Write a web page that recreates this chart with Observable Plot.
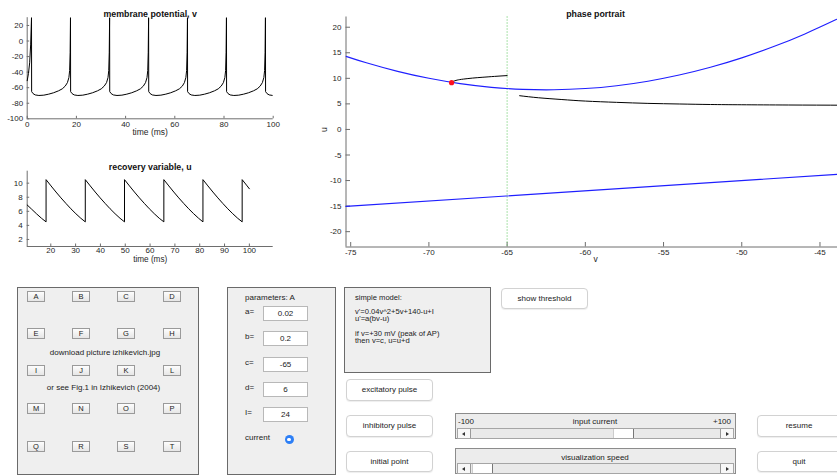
<!DOCTYPE html>
<html>
<head>
<meta charset="utf-8">
<script src="https://cdn.jsdelivr.net/npm/d3@7"></script>
<script src="https://cdn.jsdelivr.net/npm/@observablehq/plot@0.6"></script>
<style>
body{margin:0;background:#fff;}
#root{position:relative;width:837px;height:475px;overflow:hidden;font-family:'Liberation Sans',Arial,Helvetica,sans-serif;color:#222;}
.chart{position:absolute;}
.chart svg{max-width:none !important;}
.panel{position:absolute;background:#efefef;border:1px solid #6a6a6a;box-sizing:border-box;}
.lbtn{position:absolute;width:18px;height:11px;box-sizing:border-box;border:1px solid #9a9a9a;background:linear-gradient(#fdfdfd,#e6e6e6);font-size:7.5px;line-height:9px;text-align:center;color:#222;}
.txt{position:absolute;font-size:8px;line-height:10px;height:10px;white-space:nowrap;}
.ctr{transform:translateX(-50%);}
.block{position:absolute;font-size:7.6px;line-height:7.1px;white-space:pre;}
.inp{position:absolute;width:45px;height:15px;box-sizing:border-box;background:#fff;border:1px solid #b8b8b8;font-size:8px;line-height:13px;text-align:center;}
.btn{position:absolute;box-sizing:border-box;background:#fff;border:1px solid #d2d2d2;border-radius:4px;box-shadow:0 1px 1px rgba(0,0,0,.07);font-size:8px;text-align:center;}
.slider{position:absolute;box-sizing:border-box;background:#ececec;border:1px solid #8c8c8c;}
.track{position:absolute;box-sizing:border-box;background:#e9e9e9;border:1px solid #a5a5a5;}
.arrow{position:absolute;top:0;width:13px;height:100%;box-sizing:border-box;background:#f7f7f7;}
.thumb{position:absolute;top:0;height:100%;box-sizing:border-box;background:#fff;border-right:1px solid #777;border-left:1px solid #ccc;}
.tri{position:absolute;top:3px;width:0;height:0;border-top:2px solid transparent;border-bottom:2px solid transparent;}
</style>
</head>
<body>
<div id="root">
  <div id="vplot" class="chart" style="left:0;top:0;width:290px;height:140px"></div>
  <div id="uplot" class="chart" style="left:0;top:140px;width:290px;height:130px"></div>
  <div id="pplot" class="chart" style="left:300px;top:0;width:545px;height:270px"></div>
  <div id="gui"></div>
</div>
<script>
// ---------- data ----------
// membrane potential v(t)
const vTime = [0, 0.5, 1.0, 1.4, 1.75,
  1.8, 2.35, 3.25, 4.75, 6.75, 8.75, 10.75, 12.75, 14.25, 15.45, 16.35, 16.95, 17.25, 17.45, 17.6,
  17.65, 18.2, 19.1, 20.6, 22.6, 24.6, 26.6, 28.6, 30.1, 31.3, 32.25, 32.85, 33.15, 33.35, 33.5,
  33.55, 34.1, 35.0, 36.5, 38.5, 40.5, 42.5, 44.5, 46.0, 47.2, 48.1, 48.7, 49.0, 49.2, 49.35,
  49.4, 49.95, 50.85, 52.35, 54.35, 56.35, 58.35, 60.35, 61.85, 63.05, 63.9, 64.5, 64.8, 65.0, 65.15,
  65.2, 65.75, 66.65, 68.15, 70.15, 72.15, 74.15, 76.15, 77.65, 78.85, 79.75, 80.35, 80.65, 80.85, 81.0,
  81.05, 81.6, 82.5, 84.0, 86.0, 88.0, 90.0, 92.0, 93.5, 94.7, 95.6, 96.2, 96.5, 96.7, 96.85,
  96.9, 97.45, 98.35, 99.6];
const vValue = [-51, -42, -28, -5, 30,
  -65, -67.5, -69.3, -70, -69.6, -68.3, -66.5, -64, -61.5, -58, -53.5, -47, -38, -15, 30,
  -65, -67.5, -69.3, -70, -69.6, -68.3, -66.5, -64, -61.5, -58, -53.5, -47, -38, -15, 30,
  -65, -67.5, -69.3, -70, -69.6, -68.3, -66.5, -64, -61.5, -58, -53.5, -47, -38, -15, 30,
  -65, -67.5, -69.3, -70, -69.6, -68.3, -66.5, -64, -61.5, -58, -53.5, -47, -38, -15, 30,
  -65, -67.5, -69.3, -70, -69.6, -68.3, -66.5, -64, -61.5, -58, -53.5, -47, -38, -15, 30,
  -65, -67.5, -69.3, -70, -69.6, -68.3, -66.5, -64, -61.5, -58, -53.5, -47, -38, -15, 30,
  -65, -67.5, -69.3, -69.9];
const vTicksX = [0, 20, 40, 60, 80, 100];
const vTicksY = [-100, -80, -60, -40, -20, 0, 20];

// recovery variable u(t)
const uTime = [10.5, 12.3, 14.3, 16.3, 18.1,
  18.1, 20.1, 22.1, 24.1, 26.1, 28.1, 30.1, 32.1, 33.9,
  33.9, 35.9, 37.9, 39.9, 41.9, 43.9, 45.9, 47.9, 49.7,
  49.7, 51.7, 53.7, 55.7, 57.7, 59.7, 61.7, 63.7, 65.55,
  65.55, 67.55, 69.55, 71.55, 73.55, 75.55, 77.55, 79.55, 81.3,
  81.3, 83.3, 85.3, 87.3, 89.3, 91.3, 93.3, 95.3, 97.1,
  97.1, 99.1, 100];
const uValue = [6.9, 6.3, 5.63, 5.0, 4.5,
  10.5, 9.61, 8.74, 7.91, 7.12, 6.36, 5.66, 5.01, 4.5,
  10.5, 9.61, 8.74, 7.91, 7.12, 6.36, 5.66, 5.01, 4.5,
  10.5, 9.61, 8.74, 7.91, 7.12, 6.36, 5.66, 5.01, 4.5,
  10.5, 9.61, 8.74, 7.91, 7.12, 6.36, 5.66, 5.01, 4.5,
  10.5, 9.61, 8.74, 7.91, 7.12, 6.36, 5.66, 5.01, 4.5,
  10.5, 9.61, 9.2];
const uTicksX = [20, 30, 40, 50, 60, 70, 80, 90, 100];
const uTicksY = [2, 4, 6, 8, 10];

// phase portrait
const vNullV = [-75.3, -74, -72, -70, -68, -66, -64, -62, -60, -58, -56, -54, -52, -50, -48, -46, -44, -43.4];
const vNullU = [14.30, 13.04, 11.36, 10.0, 8.96, 8.24, 7.84, 7.76, 8.0, 8.56, 9.44, 10.64, 12.16, 14.0, 16.16, 18.64, 21.44, 22.34];
const uNullV = [-75.3, -43.4];
const uNullU = [-15.06, -8.68];
const traj1V = [-68.45, -68.2, -67.8, -67.2, -66.6, -65.8, -65.0];
const traj1U = [9.4, 9.65, 9.85, 10.05, 10.2, 10.38, 10.54];
const traj2V = [-64.2, -63, -61.5, -60, -58, -56, -54, -52, -50, -47, -43.4];
const traj2U = [6.6, 6.2, 5.85, 5.55, 5.3, 5.1, 4.98, 4.88, 4.83, 4.78, 4.74];
const dotV = [-68.55];
const dotU = [9.15];
const thresholdV = [-65];
const pTicksX = [-75, -70, -65, -60, -55, -50, -45];
const pTicksY = [-20, -15, -10, -5, 0, 5, 10, 15, 20];

// GUI content
const letters = ["A","B","C","D","E","F","G","H","I","J","K","L","M","N","O","P","Q","R","S","T"];
const paramNames = ["a=", "b=", "c=", "d=", "I="];
const paramValues = ["0.02", "0.2", "-65", "6", "24"];
const modelLines = ["simple model:", "", "v'=0.04v^2+5v+140-u+I", "u'=a(bv-u)", "", "if v=+30 mV (peak of AP)", "then v=c, u=u+d"];

// ---------- helpers ----------
const zip = (xs, ys) => xs.map((x, i) => ({x, y: ys[i]}));
const FONT = "'Liberation Sans', Arial, Helvetica, sans-serif";
const AX = "#6e6e6e";
const fmt = d => String(d);

function smallAxes({width, height, ml, mr, mt, mb, xTicks, yTicks, tick, padX, padY}) {
  const innerW = width - ml - mr, innerH = height - mt - mb;
  return [
    Plot.ruleX(xTicks, {x: d => d, insetTop: innerH - tick, stroke: AX}),
    Plot.ruleY(yTicks, {y: d => d, insetRight: innerW - tick, stroke: AX}),
    Plot.axisX(xTicks, {tickSize: 0, tickPadding: padX, label: null, tickFormat: fmt}),
    Plot.axisY(yTicks, {tickSize: 0, tickPadding: padY, label: null, tickFormat: fmt})
  ];
}

// ---------- membrane potential ----------
{
  const o = {width: 290, height: 140, ml: 26.7, mr: 17.3, mt: 17.2, mb: 21.7};
  const p = Plot.plot({
    width: o.width, height: o.height,
    marginLeft: o.ml, marginRight: o.mr, marginTop: o.mt, marginBottom: o.mb,
    style: {fontFamily: FONT, fontSize: "8px", color: "#262626", background: "transparent", overflow: "visible", maxWidth: "none"},
    x: {domain: [0, 100]},
    y: {domain: [-100, 30]},
    marks: [
      ...smallAxes({...o, xTicks: vTicksX, yTicks: vTicksY, tick: 2.5, padX: 2.5, padY: 4}),
      Plot.ruleX([0], {stroke: AX}),
      Plot.ruleY([-100], {stroke: AX}),
      Plot.line(zip(vTime, vValue), {x: "x", y: "y", stroke: "black", strokeWidth: 1}),
      Plot.text(["time (ms)"], {text: d => d, frameAnchor: "bottom", dy: 16.3, fontSize: 8.5, fill: "#262626"}),
      Plot.text(["membrane potential, v"], {text: d => d, frameAnchor: "top", dy: -6.5, fontSize: 8.8, fontWeight: "bold", fill: "#111"})
    ]
  });
  document.getElementById("vplot").append(p);
}

// ---------- recovery variable ----------
{
  const o = {width: 290, height: 130, ml: 26.7, mr: 17.3, mt: 30.7, mb: 24};
  const p = Plot.plot({
    width: o.width, height: o.height,
    marginLeft: o.ml, marginRight: o.mr, marginTop: o.mt, marginBottom: o.mb,
    style: {fontFamily: FONT, fontSize: "8px", color: "#262626", background: "transparent", overflow: "visible", maxWidth: "none"},
    x: {domain: [10.5, 109.6]},
    y: {domain: [1, 11.7]},
    marks: [
      ...smallAxes({...o, xTicks: uTicksX, yTicks: uTicksY, tick: 2.5, padX: 1, padY: 4.5}),
      Plot.ruleX([10.5], {stroke: AX}),
      Plot.ruleY([1], {stroke: AX}),
      Plot.line(zip(uTime, uValue), {x: "x", y: "y", stroke: "black", strokeWidth: 1}),
      Plot.text(["time (ms)"], {text: d => d, frameAnchor: "bottom", dy: 15.6, fontSize: 8.2, fill: "#262626"}),
      Plot.text(["recovery variable, u"], {text: d => d, frameAnchor: "top", dy: -7.4, fontSize: 8.8, fontWeight: "bold", fill: "#111"})
    ]
  });
  document.getElementById("uplot").append(p);
}

// ---------- phase portrait ----------
{
  const o = {width: 545, height: 270, ml: 45.5, mr: 0.5, mt: 16.5, mb: 23.5};
  const p = Plot.plot({
    width: o.width, height: o.height,
    marginLeft: o.ml, marginRight: o.mr, marginTop: o.mt, marginBottom: o.mb,
    style: {fontFamily: FONT, fontSize: "8px", color: "#262626", background: "transparent", overflow: "visible", maxWidth: "none"},
    x: {domain: [-75.3, -43.4]},
    y: {domain: [-23, 22]},
    marks: [
      ...smallAxes({...o, xTicks: pTicksX, yTicks: pTicksY, tick: 4.5, padX: 2.5, padY: 4.5}),
      Plot.ruleX([-75.3], {stroke: AX}),
      Plot.ruleY([-23], {stroke: AX}),
      Plot.ruleX(thresholdV, {x: d => d, stroke: "#55c455", strokeWidth: 1, strokeDasharray: "1,2"}),
      Plot.line(zip(vNullV, vNullU), {x: "x", y: "y", stroke: "#1f1fff", strokeWidth: 1.1, curve: "natural", clip: true}),
      Plot.line(zip(uNullV, uNullU), {x: "x", y: "y", stroke: "#1f1fff", strokeWidth: 1.1}),
      Plot.line(zip(traj1V, traj1U), {x: "x", y: "y", stroke: "black", strokeWidth: 1, curve: "natural"}),
      Plot.line(zip(traj2V, traj2U), {x: "x", y: "y", stroke: "black", strokeWidth: 1, curve: "natural"}),
      Plot.dot(zip(dotV, dotU), {x: "x", y: "y", r: 2.6, fill: "#ff1020", stroke: "none"}),
      Plot.text(["v"], {text: d => d, frameAnchor: "bottom", dy: 15, fontSize: 8.5, fill: "#262626"}),
      Plot.text(["u"], {text: d => d, frameAnchor: "left", dx: -21.5, rotate: -90, fontSize: 8.5, fill: "#262626"}),
      Plot.text(["phase portrait"], {text: d => d, frameAnchor: "top", dy: -5.8, fontSize: 8.8, fontWeight: "bold", fill: "#111"})
    ]
  });
  document.getElementById("pplot").append(p);
}

// ---------- GUI ----------
{
  const g = document.getElementById("gui");
  const add = (html) => g.insertAdjacentHTML("beforeend", html);
  // letter panel
  add(`<div class="panel" style="left:17px;top:287px;width:182px;height:188px"></div>`);
  const colX = [27, 72, 117, 163];
  const rowY = [290.5, 328, 365, 402.5, 440.5];
  letters.forEach((L, i) => {
    add(`<div class="lbtn" style="left:${colX[i % 4]}px;top:${rowY[Math.floor(i / 4)]}px">${L}</div>`);
  });
  add(`<div class="txt ctr" style="left:105px;top:347.5px">download picture izhikevich.jpg</div>`);
  add(`<div class="txt ctr" style="left:103.5px;top:382.7px">or see Fig.1 in Izhikevich (2004)</div>`);
  // parameter panel
  add(`<div class="panel" style="left:227px;top:287px;width:109px;height:188px"></div>`);
  add(`<div class="txt" style="left:245px;top:292.7px">parameters: A</div>`);
  const inpTop = [306, 331, 356.5, 381.5, 407];
  paramNames.forEach((n, i) => {
    add(`<div class="txt" style="left:245px;top:${inpTop[i] + 1}px">${n}</div>`);
    add(`<div class="inp" style="left:263px;top:${inpTop[i]}px">${paramValues[i]}</div>`);
  });
  add(`<div class="txt" style="left:245px;top:433.3px">current</div>`);
  add(`<div style="position:absolute;left:284.5px;top:434.7px;width:9px;height:9px;border-radius:50%;background:#2d7ff6"></div>`);
  add(`<div style="position:absolute;left:287.4px;top:437.6px;width:3.2px;height:3.2px;border-radius:50%;background:#fff"></div>`);
  // model panel
  add(`<div class="panel" style="left:344px;top:287px;width:147px;height:86px"></div>`);
  add(`<div class="block" style="left:355px;top:294.2px">${modelLines.join("\n")}</div>`);
  // buttons
  const btn = (x, y, w, h, t) => add(`<div class="btn" style="left:${x}px;top:${y}px;width:${w}px;height:${h}px;line-height:${h - 2}px">${t}</div>`);
  btn(346, 379, 87, 22, "excitatory pulse");
  btn(346, 415, 87, 22, "inhibitory pulse");
  btn(346, 451, 87, 21, "initial point");
  btn(501, 288, 87, 21, "show threshold");
  btn(757, 415, 84, 22, "resume");
  btn(757, 451, 84, 21, "quit");
  // sliders
  const slider = (top, thumbL, thumbW, labels) => {
    add(`<div class="slider" style="left:455px;top:${top}px;width:281px;height:26px">
      ${labels}
      <div class="track" style="left:1px;top:14px;width:277px;height:11px">
        <div class="arrow" style="left:0;border-right:1px solid #999"><div class="tri" style="left:4px;border-right:3px solid #333"></div></div>
        <div class="thumb" style="left:${thumbL}px;width:${thumbW}px"></div>
        <div class="arrow" style="right:0;border-left:1px solid #999"><div class="tri" style="left:5px;border-left:3px solid #333"></div></div>
      </div></div>`);
  };
  slider(413, 155, 21,
    `<div class="txt" style="left:2px;top:2.5px">-100</div>
     <div class="txt ctr" style="left:139px;top:2.5px">input current</div>
     <div class="txt" style="right:4px;top:2.5px">+100</div>`);
  slider(448.3, 14, 21,
    `<div class="txt ctr" style="left:139px;top:3.4px">visualization speed</div>`);
}
</script>
</body>
</html>
